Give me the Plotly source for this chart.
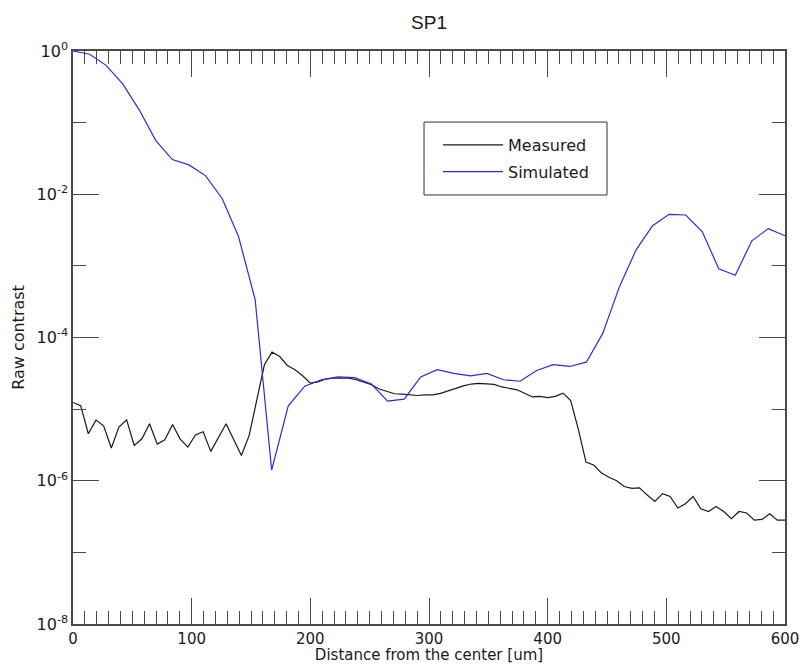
import plotly.graph_objects as go

# Measured profile: distance from the center [um] and raw contrast
measured_x = [0.0, 6.5, 12.9, 19.4, 25.8, 32.3, 38.7, 45.2, 51.6, 58.1,
              64.5, 71.0, 77.4, 83.9, 90.3, 96.8, 103.2, 109.7, 116.1, 122.6,
              129.0, 135.5, 141.9, 148.4, 154.8, 161.3, 167.7, 174.2, 180.6, 187.1,
              193.5, 200.0, 206.5, 212.9, 219.4, 225.8, 232.3, 238.7, 245.2, 251.6,
              258.1, 264.5, 271.0, 277.4, 283.9, 290.3, 296.8, 303.2, 309.7, 316.1,
              322.6, 329.0, 335.5, 341.9, 348.4, 354.8, 361.3, 367.7, 374.2, 380.6,
              387.1, 393.5, 400.0, 406.5, 412.9, 419.4, 425.8, 432.3, 438.7, 445.2,
              451.6, 458.1, 464.5, 471.0, 477.4, 483.9, 490.3, 496.8, 503.2, 509.7,
              516.1, 522.6, 529.0, 535.5, 541.9, 548.4, 554.8, 561.3, 567.7, 574.2,
              580.6, 587.1, 593.5, 600.0]
measured_y = [1.24e-5, 1.12e-5, 4.53e-6, 7.03e-6, 5.86e-6, 2.86e-6, 5.62e-6, 7.10e-6, 3.11e-6, 3.85e-6,
              6.25e-6, 3.25e-6, 3.73e-6, 6.11e-6, 3.82e-6, 2.95e-6, 4.37e-6, 4.83e-6, 2.57e-6, 4.07e-6,
              6.25e-6, 3.73e-6, 2.25e-6, 4.27e-6, 1.28e-5, 4.16e-5, 6.25e-5, 5.43e-5, 4.07e-5, 3.55e-5,
              2.92e-5, 2.31e-5, 2.40e-5, 2.63e-5, 2.71e-5, 2.71e-5, 2.71e-5, 2.57e-5, 2.40e-5, 2.19e-5,
              1.91e-5, 1.78e-5, 1.64e-5, 1.62e-5, 1.58e-5, 1.55e-5, 1.58e-5, 1.58e-5, 1.66e-5, 1.82e-5,
              1.95e-5, 2.11e-5, 2.24e-5, 2.29e-5, 2.26e-5, 2.21e-5, 2.04e-5, 1.95e-5, 1.86e-5, 1.67e-5,
              1.48e-5, 1.51e-5, 1.45e-5, 1.51e-5, 1.67e-5, 1.32e-5, 5.25e-6, 1.82e-6, 1.66e-6, 1.29e-6,
              1.12e-6, 1.00e-6, 8.32e-7, 7.82e-7, 7.94e-7, 6.31e-7, 5.13e-7, 6.61e-7, 6.03e-7, 4.17e-7,
              4.79e-7, 6.03e-7, 4.07e-7, 3.72e-7, 4.37e-7, 3.72e-7, 2.95e-7, 3.72e-7, 3.55e-7, 2.82e-7,
              2.88e-7, 3.47e-7, 2.82e-7, 2.82e-7]

# Simulated profile
simulated_x = [0.0, 14.0, 27.9, 41.9, 55.8, 69.8, 83.7, 97.7, 111.6, 125.6,
               139.5, 153.5, 167.4, 181.4, 195.3, 209.3, 223.3, 237.2, 251.2, 265.1,
               279.1, 293.0, 307.0, 320.9, 334.9, 348.8, 362.8, 376.7, 390.7, 404.7,
               418.6, 432.6, 446.5, 460.5, 474.4, 488.4, 502.3, 516.3, 530.2, 544.2,
               558.1, 572.1, 586.0, 600.0]
simulated_y = [1.0, 0.90, 0.63, 0.347, 0.151, 0.0562, 0.0305, 0.0257, 0.0182, 0.00881,
               0.00257, 3.39e-4, 1.41e-6, 1.11e-5, 2.09e-5, 2.57e-5, 2.82e-5, 2.75e-5, 2.26e-5, 1.29e-5,
               1.38e-5, 2.82e-5, 3.55e-5, 3.16e-5, 2.92e-5, 3.16e-5, 2.57e-5, 2.45e-5, 3.47e-5, 4.17e-5,
               3.94e-5, 4.52e-5, 1.15e-4, 5.13e-4, 1.66e-3, 3.63e-3, 5.25e-3, 5.13e-3, 3.02e-3, 9.12e-4,
               7.41e-4, 2.24e-3, 3.31e-3, 2.63e-3]

# Axis ticks
x_major = [0, 100, 200, 300, 400, 500, 600]
y_major = [1e0, 1e-2, 1e-4, 1e-6, 1e-8]
y_major_text = ["10<sup>0</sup>", "10<sup>-2</sup>", "10<sup>-4</sup>", "10<sup>-6</sup>", "10<sup>-8</sup>"]
y_minor = [1e-1, 1e-3, 1e-5, 1e-7]

AXIS_COLOR = "#4a4a4a"
FONT = "DejaVu Sans, Verdana, sans-serif"

fig = go.Figure()
fig.add_trace(go.Scatter(x=measured_x, y=measured_y, mode="lines", name="Measured",
                         legendgroup="measured",
                         line=dict(color="#1a1a1a", width=1.2)))
fig.add_trace(go.Scatter(x=simulated_x, y=simulated_y, mode="lines", name="Simulated",
                         legendgroup="simulated",
                         line=dict(color="#2b2be0", width=1.2)))

# Frame around the legend entries
fig.add_shape(type="rect", xref="paper", yref="paper",
              x0=0.493, x1=0.750, y0=0.7487, y1=0.876,
              line=dict(color="#333333", width=1), fillcolor="rgba(0,0,0,0)")

fig.update_layout(
    width=801, height=664,
    margin=dict(l=73, r=16, t=51, b=40),
    paper_bgcolor="white", plot_bgcolor="white",
    font=dict(family=FONT, size=15, color="#1a1a1a"),
    title=dict(text="SP1", x=(73 + 356) / 801, xanchor="center", y=1 - 22 / 664, yanchor="middle",
               font=dict(family="Liberation Sans, Arial, sans-serif", size=19, color="#1a1a1a")),
    showlegend=True,
    legend=dict(x=(438 - 73) / 712, y=(624 - 128) / 573, xanchor="left", yanchor="top",
                bgcolor="rgba(0,0,0,0)", borderwidth=0,
                font=dict(family=FONT, size=16, color="#1a1a1a"),
                itemwidth=60, tracegroupgap=3, traceorder="grouped"),
)

fig.update_xaxes(
    range=[0, 600], showgrid=False, zeroline=False, automargin=False,
    showline=True, linecolor=AXIS_COLOR, linewidth=1.5, mirror="ticks",
    ticks="inside", ticklen=26, tickwidth=1.3, tickcolor=AXIS_COLOR,
    tickmode="array", tickvals=x_major,
    minor=dict(ticks="inside", ticklen=13, tickwidth=1.3, tickcolor=AXIS_COLOR, dtick=10, showgrid=False),
    tickfont=dict(size=15),
    title=dict(text="Distance from the center [um]", font=dict(size=15), standoff=1),
)
fig.update_yaxes(
    type="log", range=[-8, 0], showgrid=False, zeroline=False, automargin=False,
    showline=True, linecolor=AXIS_COLOR, linewidth=1.5, mirror="ticks",
    ticks="inside", ticklen=26, tickwidth=1.3, tickcolor=AXIS_COLOR,
    tickmode="array", tickvals=y_major, ticktext=y_major_text,
    minor=dict(ticks="inside", ticklen=13, tickwidth=1.3, tickcolor=AXIS_COLOR,
               tickmode="array", tickvals=y_minor, showgrid=False),
    tickfont=dict(size=16),
    title=dict(text="Raw contrast", font=dict(size=16), standoff=8),
)

fig.write_html("out.html")
